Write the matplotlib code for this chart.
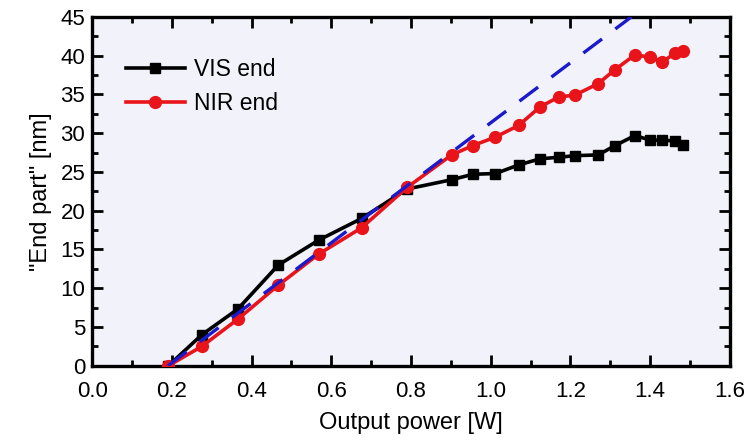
import matplotlib
matplotlib.use('Agg')
import matplotlib.pyplot as plt
from matplotlib.ticker import MultipleLocator

plt.rcParams['font.family'] = ['Liberation Sans', 'DejaVu Sans']

power = [0.191, 0.275, 0.365, 0.467, 0.568, 0.676, 0.790, 0.902, 0.955, 1.012, 1.070,
         1.124, 1.172, 1.211, 1.270, 1.312, 1.362, 1.401, 1.431, 1.462, 1.483]
vis_end = [0.0, 4.0, 7.3, 13.0, 16.2, 19.0, 22.8, 24.0, 24.7, 24.8, 25.9,
           26.7, 26.9, 27.1, 27.2, 28.4, 29.7, 29.1, 29.1, 29.0, 28.5]
nir_end = [0.0, 2.5, 6.0, 10.4, 14.4, 17.8, 23.0, 27.2, 28.4, 29.5, 31.0,
           33.4, 34.7, 34.9, 36.4, 38.2, 40.1, 39.8, 39.2, 40.3, 40.6]
fit_x = [0.19, 1.353]
fit_y = [0.0, 45.0]

fig, ax = plt.subplots(figsize=(7.5, 4.45), dpi=100)
fig.subplots_adjust(left=0.123, right=0.973, top=0.962, bottom=0.178)
ax.set_facecolor('#f2f2fb')

ax.plot(power, vis_end, color='black', lw=2.6, marker='s', ms=7.5, label='VIS end', zorder=3)
ax.plot(power, nir_end, color='#e8141a', lw=2.6, marker='o', ms=8.5, label='NIR end', zorder=4)
ax.plot(fit_x, fit_y, color='#1a1acc', lw=2.4, ls=(0, (7, 5)), zorder=5)

ax.set_xlim(0, 1.6)
ax.set_ylim(0, 45)
ax.xaxis.set_major_locator(MultipleLocator(0.2))
ax.xaxis.set_minor_locator(MultipleLocator(0.1))
ax.yaxis.set_major_locator(MultipleLocator(5))
ax.yaxis.set_minor_locator(MultipleLocator(2.5))
ax.xaxis.set_major_formatter(matplotlib.ticker.FormatStrFormatter('%.1f'))
ax.tick_params(which='both', direction='in', top=True, right=True, labelsize=16, width=2)
ax.tick_params(which='major', length=8)
ax.tick_params(which='minor', length=4.5)
ax.tick_params(axis='x', pad=11)
ax.tick_params(axis='y', pad=5)
for s in ax.spines.values():
    s.set_linewidth(2.4)

ax.set_xlabel('Output power [W]', fontsize=17, labelpad=7)
ax.set_ylabel('"End part" [nm]', fontsize=17, labelpad=6)
ax.legend(loc='upper left', frameon=False, fontsize=16.5, bbox_to_anchor=(0.02, 0.94),
          handlelength=2.6, handletextpad=0.4, labelspacing=0.45)

plt.savefig('out.png')
